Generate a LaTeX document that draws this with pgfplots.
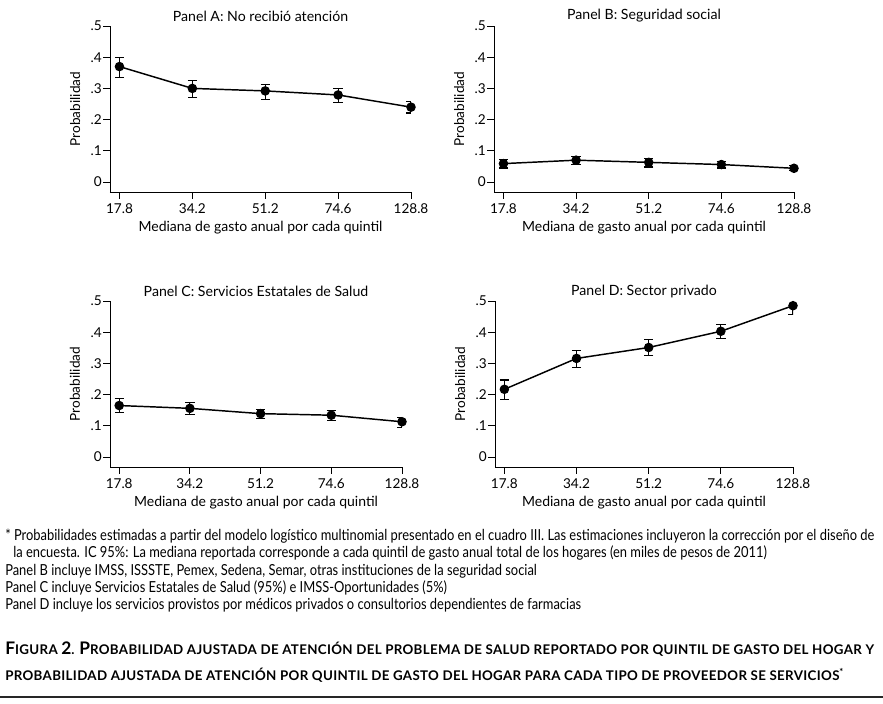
\documentclass[border=0pt]{standalone}
\usepackage{fontspec}
\setmainfont{Lato}
\newfontfamily\condfont{Lato}[FakeStretch=0.85]
\newfontfamily\capfont{Lato}[LetterSpace=2.5]
\usepackage{pgfplots}
\pgfplotsset{compat=1.18}

\pgfplotsset{
  panel/.style={
    scale only axis,
    height=124.5pt,
    xmin=-0.13, xmax=4,
    ymin=-0.032, ymax=0.5,
    axis x line*=bottom, axis y line*=left,
    axis line style={-, line width=0.7pt},
    tick align=outside, major tick length=5pt,
    tick style={line width=0.7pt, black},
    xtick={0,1,2,3,4}, xticklabels={17.8,34.2,51.2,74.6,128.8},
    ytick={0,0.1,0.2,0.3,0.4,0.5}, yticklabels={0,.1,.2,.3,.4,.5},
    /pgf/number format/assume math mode=true,
    font=\fontsize{10}{12}\selectfont,
    ticklabel style={font=\fontsize{10.2}{12}\selectfont},
    yticklabel style={inner xsep=1pt},
    xlabel={Mediana de gasto anual por cada quintil},
    ylabel={Probabilidad},
    every axis title shift=0pt,
    xlabel style={at={(axis description cs:0.5,-0.217)}, anchor=center, font=\fontsize{10.5}{12}\selectfont},
    ylabel style={font=\fontsize{10.2}{12}\selectfont},
    title style={at={(axis description cs:0.5,1.06)}, anchor=center, font=\fontsize{10.6}{12}\selectfont},
  },
  ser/.style={
    black, line width=1.1pt, mark=*, mark size=3pt,
    error bars/.cd, y dir=both, y explicit,
    error bar style={line width=0.9pt, black},
    error mark options={line width=0.9pt, mark size=3.5pt, rotate=90},
  },
}

\begin{document}
\begin{tikzpicture}[x=0.75pt, y=-0.75pt]
\path[use as bounding box] (0,0) rectangle (883,704);

% Panel A
\begin{axis}[panel, width=225.75pt, at={(82.5pt,-144pt)}, anchor=south west,
  title={Panel A: No recibió atención},
  ylabel style={at={(axis description cs:-0.116,0.5)}, anchor=center}]
\addplot[ser] coordinates {
 (0,0.370) += (0,0.030) -= (0,0.034)
 (1,0.300) += (0,0.026) -= (0,0.028)
 (2,0.292) += (0,0.021) -= (0,0.027)
 (3,0.279) += (0,0.021) -= (0,0.023)
 (4,0.240) += (0,0.019) -= (0,0.019)
};
\end{axis}

% Panel B
\begin{axis}[panel, width=225pt, at={(370.5pt,-144pt)}, anchor=south west,
  title={Panel B: Seguridad social},
  ylabel style={at={(axis description cs:-0.116,0.5)}, anchor=center}]
\addplot[ser] coordinates {
 (0,0.059) += (0,0.014) -= (0,0.014)
 (1,0.070) += (0,0.012) -= (0,0.015)
 (2,0.063) += (0,0.012) -= (0,0.015)
 (3,0.056) += (0,0.010) -= (0,0.011)
 (4,0.044) += (0,0.008) -= (0,0.008)
};
\end{axis}

% Panel C
\begin{axis}[panel, width=219pt, at={(82.5pt,-350.25pt)}, anchor=south west,
  title={Panel C: Servicios Estatales de Salud},
  ylabel style={at={(axis description cs:-0.12,0.5)}, anchor=center}]
\addplot[ser] coordinates {
 (0,0.165) += (0,0.023) -= (0,0.023)
 (1,0.156) += (0,0.019) -= (0,0.020)
 (2,0.139) += (0,0.013) -= (0,0.016)
 (3,0.134) += (0,0.014) -= (0,0.017)
 (4,0.113) += (0,0.014) -= (0,0.018)
};
\end{axis}

% Panel D
\begin{axis}[panel, width=223.5pt, at={(371.25pt,-350.25pt)}, anchor=south west,
  title={Panel D: Sector privado},
  ylabel style={at={(axis description cs:-0.117,0.5)}, anchor=center}]
\addplot[ser] coordinates {
 (0,0.217) += (0,0.030) -= (0,0.032)
 (1,0.316) += (0,0.026) -= (0,0.029)
 (2,0.351) += (0,0.026) -= (0,0.025)
 (3,0.403) += (0,0.022) -= (0,0.023)
 (4,0.485) += (0,0.022) -= (0,0.027)
};
\end{axis}

% notes
\begin{scope}[every node/.style={anchor=base west, inner sep=0pt, font=\condfont\fontsize{11.4}{13}\selectfont}]
\node at (5,540) {* Probabilidades estimadas a partir del modelo logístico multinomial presentado en el cuadro III. Las estimaciones incluyeron la corrección por el diseño de};
\node at (13,557) {la encuesta. IC 95\%: La mediana reportada corresponde a cada quintil de gasto anual total de los hogares (en miles de pesos de 2011)};
\node at (5,575) {Panel B incluye IMSS, ISSSTE, Pemex, Sedena, Semar, otras instituciones de la seguridad social};
\node at (5,592) {Panel C incluye Servicios Estatales de Salud (95\%) e IMSS-Oportunidades (5\%)};
\node at (5,609) {Panel D incluye los servicios provistos por médicos privados o consultorios dependientes de farmacias};
\end{scope}

% caption
\begin{scope}[every node/.style={anchor=base west, inner sep=0pt, font=\capfont\bfseries\fontsize{10}{12}\selectfont}]
\node at (5,654) {{\fontsize{13}{14}\selectfont F}IGURA {\fontsize{13}{14}\selectfont 2}. {\fontsize{13}{14}\selectfont P}ROBABILIDAD AJUSTADA DE ATENCIÓN DEL PROBLEMA DE SALUD REPORTADO POR QUINTIL DE GASTO DEL HOGAR Y};
\node at (5,680) {PROBABILIDAD AJUSTADA DE ATENCIÓN POR QUINTIL DE GASTO DEL HOGAR PARA CADA TIPO DE PROVEEDOR SE SERVICIOS\textsuperscript{*}};
\end{scope}
\draw[line width=1.1pt, black!85] (0,697) -- (883,697);
\end{tikzpicture}
\end{document}
